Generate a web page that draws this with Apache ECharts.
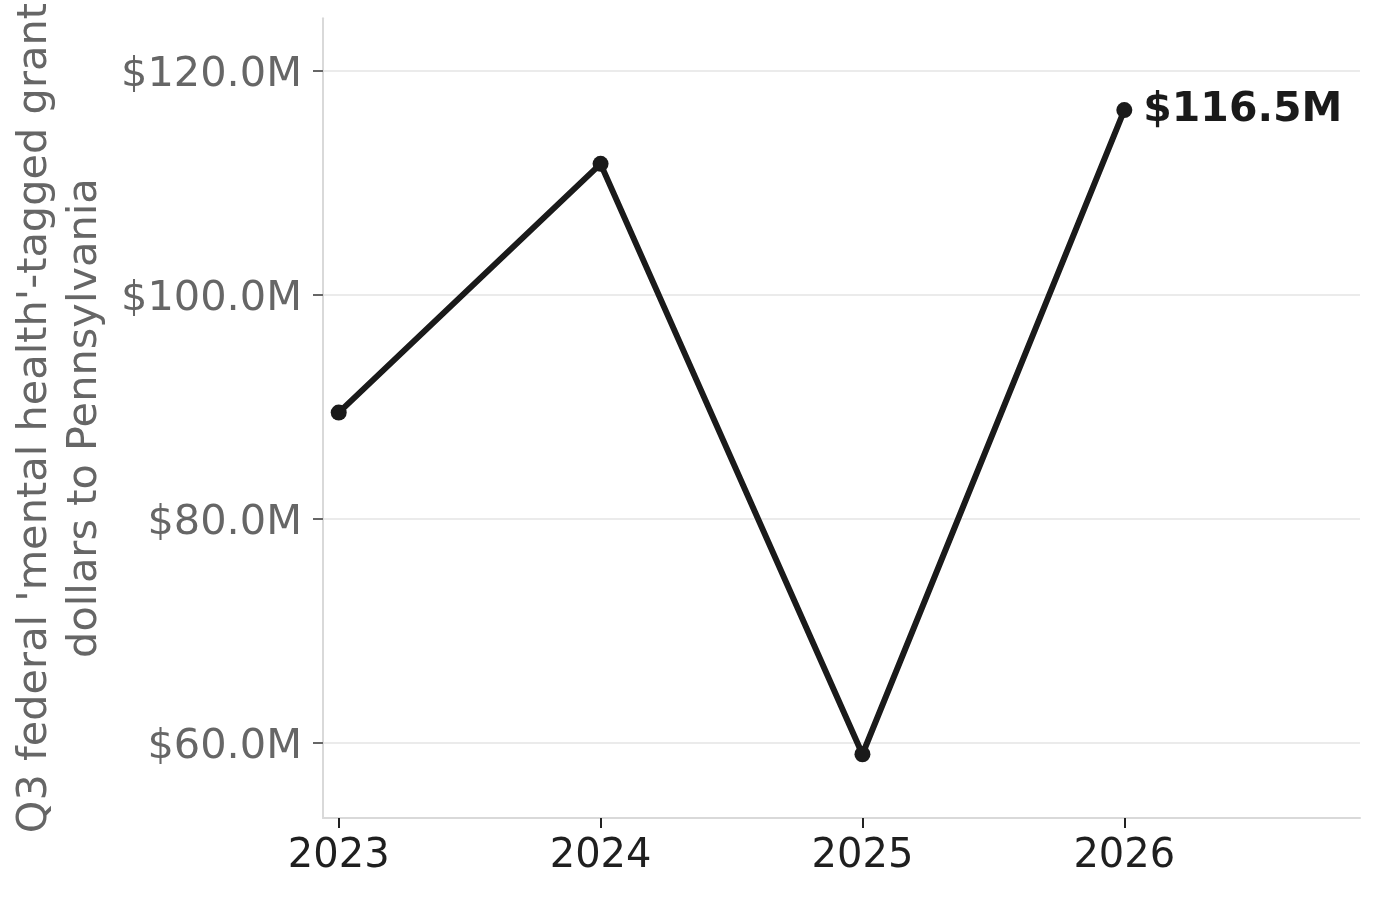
<!DOCTYPE html>
<html>
<head>
<meta charset="utf-8">
<style>
  html, body { margin: 0; padding: 0; background: #fff; }
  #chart { width: 1380px; height: 900px; }
</style>
<script src="https://cdn.jsdelivr.net/npm/echarts@6/dist/echarts.min.js"></script>
</head>
<body>
<div id="chart"></div>
<script>
// Q3 grant dollars, millions
var years = [2023, 2024, 2025, 2026]
var amounts = [89.5, 111.7, 59.0, 116.5]
var yTicks = [60, 80, 100, 120]
var yName = "Q3 federal 'mental health'-tagged grant\ndollars to Pennsylvania"

var points = []
for (var i = 0; i < years.length; i++) {
  var p = { value: [years[i], amounts[i]] }
  // only the last point carries its value
  if (i === years.length - 1) {
    p.label = { show: true }
  }
  points.push(p)
}

var chart = echarts.init(document.getElementById('chart'))
var option = {
  animation: false,
  textStyle: { fontFamily: 'DejaVu Sans' },
  grid: { left: 323, right: 20, top: 18, bottom: 82 },
  xAxis: {
    type: 'value',
    min: 2022.94,
    max: 2026.9,
    axisLine: { show: true, lineStyle: { color: '#d9d9d9', width: 2 } },
    axisTick: { show: true, length: 10, customValues: years, lineStyle: { color: '#222', width: 2 } },
    axisLabel: {
      customValues: years,
      margin: 19,
      fontSize: 40,
      color: '#1f1f1f',
      formatter: function (v) { return String(v) }
    },
    splitLine: { show: false }
  },
  yAxis: {
    type: 'value',
    min: 53.31,
    max: 124.7,
    name: yName,
    nameLocation: 'middle',
    nameGap: 209,
    nameTextStyle: { fontSize: 41.5, color: '#666', lineHeight: 50 },
    axisLine: { show: true, lineStyle: { color: '#d9d9d9', width: 2 } },
    axisTick: { show: true, length: 10, customValues: yTicks, lineStyle: { color: '#666', width: 2 } },
    axisLabel: {
      customValues: yTicks,
      margin: 21,
      color: '#666',
      formatter: function (v) { return '{t|$' + v.toFixed(1) + 'M}' },
      rich: {
        t: { fontSize: 41.5, color: '#666', padding: [9, 0, 0, 0] }
      }
    },
    splitLine: { show: true, lineStyle: { color: '#ebebeb', width: 2 } }
  },
  series: [
    {
      type: 'line',
      data: points,
      symbol: 'circle',
      symbolSize: 16,
      lineStyle: { color: '#1a1a1a', width: 6 },
      itemStyle: { color: '#1a1a1a' },
      label: {
        show: false,
        position: 'right',
        distance: 11,
        offset: [0, 0],
        fontSize: 41,
        fontWeight: 'bold',
        color: '#1a1a1a',
        formatter: function (d) { return '$' + d.value[1].toFixed(1) + 'M' }
      }
    }
  ]
}
chart.setOption(option)
</script>
</body>
</html>
